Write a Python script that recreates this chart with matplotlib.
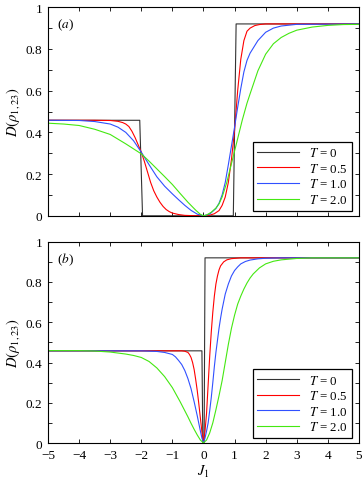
import matplotlib

matplotlib.use("Agg")
import matplotlib.pyplot as plt
from matplotlib.ticker import MultipleLocator

plt.rcParams["font.family"] = "serif"
plt.rcParams["font.serif"] = ["Liberation Serif", "DejaVu Serif"]
plt.rcParams["mathtext.fontset"] = "stix"

# ---- panel (a) values ----
a_t0_x = [-5, -2.05, -1.96, 0.96, 1.05, 5]
a_t0_y = [0.458, 0.458, 0.0, 0.0, 0.92, 0.92]

a_t05_x = [-5, -3.5, -3, -2.75, -2.6, -2.5, -2.4, -2.3, -2.2, -2.1, -2.0, -1.9, -1.8, -1.7,
           -1.6, -1.5, -1.4, -1.3, -1.2, -1.1, -1.0, -0.8, -0.6, -0.3, 0,
           0.2, 0.35, 0.5, 0.6, 0.7, 0.8, 0.9, 1.0, 1.1, 1.2, 1.3, 1.4, 1.5, 1.65, 1.8, 2.0, 5]
a_t05_y = [0.458, 0.458, 0.457, 0.453, 0.447, 0.44, 0.428, 0.405, 0.375, 0.34, 0.305, 0.26, 0.21, 0.16,
           0.12, 0.09, 0.065, 0.045, 0.03, 0.02, 0.013, 0.006, 0.002, 0.0005, 0.0,
           0.003, 0.01, 0.025, 0.05, 0.09, 0.16, 0.27, 0.41, 0.60, 0.75, 0.84, 0.885, 0.90, 0.912, 0.917, 0.92, 0.92]

a_t1_x = [-5, -4, -3.5, -3, -2.75, -2.5, -2.25, -2, -1.75, -1.5, -1.25, -1, -0.8, -0.6, -0.4, -0.2, 0,
          0.2, 0.4, 0.5, 0.6, 0.7, 0.8, 0.9, 1.0, 1.1, 1.2, 1.3, 1.4, 1.5, 1.75, 2.0, 2.25, 2.5, 3, 5]
a_t1_y = [0.458, 0.457, 0.452, 0.44, 0.425, 0.40, 0.36, 0.305, 0.245, 0.187, 0.142, 0.105, 0.077, 0.05, 0.026, 0.008, 0.0,
          0.008, 0.035, 0.06, 0.10, 0.16, 0.245, 0.335, 0.425, 0.52, 0.61, 0.69, 0.745, 0.78, 0.84, 0.88, 0.90, 0.91, 0.918, 0.92]

a_t2_x = [-5, -4.5, -4, -3.5, -3, -2.5, -2, -1.75, -1.5, -1.25, -1, -0.75, -0.5, -0.25, -0.1, 0,
          0.1, 0.25, 0.4, 0.5, 0.6, 0.75, 0.9, 1.0, 1.15, 1.25, 1.4, 1.5, 1.75, 2.0, 2.25, 2.5, 2.75,
          3, 3.5, 4, 4.5, 5]
a_t2_y = [0.444, 0.44, 0.433, 0.415, 0.39, 0.345, 0.297, 0.262, 0.225, 0.188, 0.15, 0.107, 0.065, 0.027, 0.007, 0.0,
          0.004, 0.017, 0.037, 0.057, 0.09, 0.16, 0.25, 0.31, 0.40, 0.46, 0.54, 0.585, 0.695, 0.775, 0.825, 0.855, 0.875,
          0.89, 0.905, 0.913, 0.917, 0.918]

# ---- panel (b) values ----
b_t0_x = [-5, -0.05, -0.02, 0.02, 0.05, 5]
b_t0_y = [0.458, 0.458, 0.0, 0.0, 0.92, 0.92]

b_t05_x = [-5, -0.7, -0.6, -0.5, -0.45, -0.4, -0.35, -0.3, -0.25, -0.2, -0.15, -0.1, -0.05, 0,
           0.05, 0.1, 0.15, 0.2, 0.25, 0.3, 0.35, 0.4, 0.45, 0.5, 0.55, 0.65, 0.75, 0.9, 1.2, 5]
b_t05_y = [0.458, 0.458, 0.456, 0.45, 0.44, 0.425, 0.40, 0.365, 0.315, 0.26, 0.195, 0.125, 0.055, 0.0,
           0.06, 0.15, 0.29, 0.43, 0.55, 0.65, 0.73, 0.79, 0.83, 0.86, 0.88, 0.90, 0.91, 0.916, 0.92, 0.92]

b_t1_x = [-5, -2, -1.5, -1.25, -1.0, -0.9, -0.8, -0.7, -0.6, -0.5, -0.4, -0.3, -0.2, -0.1, -0.05, 0,
          0.05, 0.1, 0.15, 0.2, 0.25, 0.3, 0.35, 0.4, 0.45, 0.5, 0.55, 0.6, 0.7, 0.8, 0.9, 1.0, 1.1,
          1.2, 1.35, 1.5, 1.75, 2.0, 2.5, 5]
b_t1_y = [0.458, 0.458, 0.455, 0.45, 0.44, 0.428, 0.41, 0.39, 0.36, 0.32, 0.27, 0.205, 0.135, 0.06, 0.025, 0.0,
          0.025, 0.06, 0.10, 0.16, 0.225, 0.30, 0.38, 0.45, 0.51, 0.57, 0.62, 0.665, 0.74, 0.79, 0.83, 0.857, 0.875,
          0.89, 0.902, 0.909, 0.915, 0.918, 0.92, 0.92]

b_t2_x = [-5, -4, -3.5, -3, -2.5, -2.25, -2, -1.75, -1.5, -1.25, -1.0, -0.75, -0.5,
          -0.4, -0.3, -0.2, -0.1, 0,
          0.1, 0.2, 0.3, 0.4, 0.5, 0.6, 0.7, 0.8, 0.9, 1.0, 1.1, 1.2, 1.3, 1.4, 1.5, 1.6, 1.8, 2.0,
          2.25, 2.5, 3.0, 3.5, 5]
b_t2_y = [0.459, 0.459, 0.457, 0.452, 0.442, 0.435, 0.425, 0.405, 0.373, 0.33, 0.275, 0.205, 0.13,
          0.098, 0.068, 0.04, 0.015, 0.0,
          0.015, 0.05, 0.10, 0.165, 0.235, 0.31, 0.40, 0.49, 0.57, 0.635, 0.69, 0.73, 0.765, 0.795, 0.82, 0.84, 0.87, 0.89,
          0.903, 0.91, 0.917, 0.92, 0.92]

temps = ["0", "0.5", "1.0", "2.0"]
colors = ["#333333", "#ff0000", "#3050ff", "#44e811"]
x_ticks = [-5, -4, -3, -2, -1, 0, 1, 2, 3, 4, 5]
y_ticks = [0, 0.2, 0.4, 0.6, 0.8, 1]

panels = [
    ("a", [(a_t0_x, a_t0_y), (a_t05_x, a_t05_y), (a_t1_x, a_t1_y), (a_t2_x, a_t2_y)]),
    ("b", [(b_t0_x, b_t0_y), (b_t05_x, b_t05_y), (b_t1_x, b_t1_y), (b_t2_x, b_t2_y)]),
]

fig = plt.figure(figsize=(3.64, 4.85), dpi=100)
ax_a = fig.add_axes([0.132, 0.553, 0.854, 0.430])
ax_b = fig.add_axes([0.132, 0.0845, 0.854, 0.415])

for ax, (tag, series) in zip([ax_a, ax_b], panels):
    for (xs, ys), T, c in zip(series, temps, colors):
        ax.plot(xs, ys, color=c, lw=0.8, label=f"$T$ = {T}")
    ax.set_xlim(-5, 5)
    ax.set_ylim(0, 1)
    ax.set_xticks(x_ticks)
    ax.set_yticks(y_ticks)
    ax.set_yticklabels(["0", "0.2", "0.4", "0.6", "0.8", "1"])
    ax.yaxis.set_minor_locator(MultipleLocator(0.1))
    ax.tick_params(which="both", direction="in", top=True, right=True,
                   length=3, width=0.6, labelsize=9.5, pad=4)
    for s in ax.spines.values():
        s.set_linewidth(0.8)
    ax.set_ylabel(r"$D(\rho_{1,23})$", fontsize=10.5, labelpad=3)
    ax.text(0.03, 0.955, f"(${tag}$)", transform=ax.transAxes,
            fontsize=9.5, va="top", ha="left")
    leg = ax.legend(loc="lower right", bbox_to_anchor=(0.978, 0.025),
                    borderaxespad=0, fontsize=9.3, fancybox=False,
                    framealpha=1, edgecolor="black", handlelength=3.2,
                    handletextpad=0.8, labelspacing=0.2, borderpad=0.35)
    leg.get_frame().set_linewidth(0.9)

ax_a.set_xticklabels([])
ax_b.set_xticklabels(["\u22125", "\u22124", "\u22123", "\u22122", "\u22121",
                      "0", "1", "2", "3", "4", "5"])
ax_b.set_xlabel(r"$J_1$", fontsize=10.5, labelpad=2)

fig.savefig("out.png", dpi=100)
